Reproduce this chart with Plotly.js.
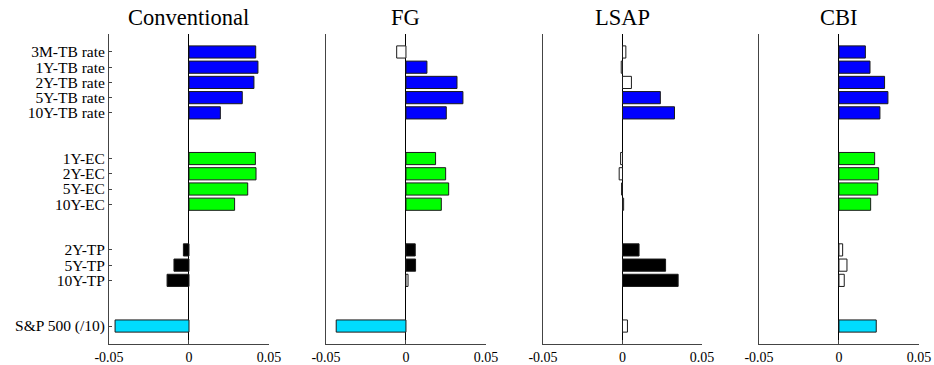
<!DOCTYPE html>
<html>
<head>
<meta charset="utf-8">
<script src="https://cdn.plot.ly/plotly-3.0.1.min.js"></script>
<style>html,body{margin:0;padding:0;background:#fff;}#chart{width:934px;height:365px;}</style>
</head>
<body>
<div id="chart"></div>
<script>
// ---- data ----
var panelTitles = ['Conventional', 'FG', 'LSAP', 'CBI'];
var groupRates = ['3M-TB rate', '1Y-TB rate', '2Y-TB rate', '5Y-TB rate', '10Y-TB rate'];
var groupEC = ['1Y-EC', '2Y-EC', '5Y-EC', '10Y-EC'];
var groupTP = ['2Y-TP', '5Y-TP', '10Y-TP'];
var groupSP = ['S&P 500 (/10)'];
var groupKinds = ['rates', 'ec', 'tp', 'sp'];

var conventional = [0.0417, 0.0431, 0.0406, 0.0333, 0.0196, 0.0415, 0.0419, 0.0367, 0.0285, -0.0035, -0.0094, -0.0137, -0.0462];
var fg           = [-0.0058, 0.0131, 0.0319, 0.0356, 0.0252, 0.0185, 0.0248, 0.0267, 0.0221, 0.0058, 0.0060, 0.0013, -0.0436];
var lsap         = [0.0021, -0.0008, 0.0056, 0.0238, 0.0327, -0.0012, -0.0021, -0.0006, 0.0007, 0.0104, 0.0271, 0.0350, 0.0031];
var cbi          = [0.0165, 0.0194, 0.0285, 0.0306, 0.0256, 0.0223, 0.0248, 0.0242, 0.0198, 0.0023, 0.0050, 0.0033, 0.0233];

var sigConventional = [1,1,1,1,1, 1,1,1,1, 1,1,1, 1];
var sigFG           = [0,1,1,1,1, 1,1,1,1, 1,1,0, 1];
var sigLSAP         = [0,0,0,1,1, 0,0,0,0, 1,1,1, 0];
var sigCBI          = [1,1,1,1,1, 1,1,1,1, 0,0,0, 1];

var xTickVals = [-0.05, 0, 0.05];
var xTickText = ['-0.05', '0', '0.05'];

// ---- styling ----
var kindColor = {rates: '#0000ff', ec: '#00ff00', tp: '#000000', sp: '#00dcff'};
var groups = [groupRates, groupEC, groupTP, groupSP];
var labels = [], pos = [], kinds = [];
var p = 0;
groups.forEach(function (g, gi) {
  g.forEach(function (lab) { labels.push(lab); pos.push(p); kinds.push(groupKinds[gi]); p++; });
  p += 2;
});

var series = [conventional, fg, lsap, cbi];
var sigs = [sigConventional, sigFG, sigLSAP, sigCBI];
var domains = [[0.1167, 0.2880], [0.3490, 0.5203], [0.5814, 0.7516], [0.8126, 0.9839]];
var serif = 'Liberation Serif, Times New Roman, serif';

var traces = [], layout = {
  width: 934, height: 365,
  margin: {l: 0, r: 0, t: 34, b: 21},
  paper_bgcolor: '#fff', plot_bgcolor: '#fff',
  showlegend: false, bargap: 0.2,
  font: {family: serif, size: 13, color: '#000'},
  annotations: []
};

series.forEach(function (vals, i) {
  var sfx = i === 0 ? '' : String(i + 1);
  var colors = vals.map(function (v, k) { return sigs[i][k] ? kindColor[kinds[k]] : '#ffffff'; });
  traces.push({
    type: 'bar', orientation: 'h', x: vals, y: pos, width: 0.8,
    xaxis: 'x' + sfx, yaxis: 'y' + sfx,
    marker: {color: colors, line: {color: '#1a1a1a', width: 1}},
    hoverinfo: 'x+y'
  });
  layout['xaxis' + sfx] = {
    domain: domains[i], anchor: 'y' + sfx, range: [-0.05, 0.05],
    tickmode: 'array', tickvals: xTickVals, ticktext: xTickText,
    ticks: 'inside', ticklen: 4, tickcolor: '#444', tickwidth: 1,
    showline: true, linecolor: '#444', linewidth: 1, mirror: false,
    showgrid: false, zeroline: true, zerolinecolor: '#000', zerolinewidth: 1,
    tickfont: {family: serif, size: 14, color: '#000'}, fixedrange: true
  };
  layout['yaxis' + sfx] = {
    anchor: 'x' + sfx, range: [19.18, -1.18],
    tickmode: 'array', tickvals: pos, ticktext: labels,
    showticklabels: i === 0, ticks: i === 0 ? 'inside' : '', ticklen: 3, tickcolor: '#444',
    showline: true, linecolor: '#444', linewidth: 1,
    showgrid: false, zeroline: false,
    tickfont: {family: serif, size: 15.5, color: '#000'}, fixedrange: true
  };
  layout.annotations.push({
    text: panelTitles[i], xref: 'paper', yref: 'paper',
    x: (domains[i][0] + domains[i][1]) / 2, y: 1, yshift: 2,
    xanchor: 'center', yanchor: 'bottom', showarrow: false,
    font: {family: serif, size: 22.5, color: '#000'}
  });
});

Plotly.newPlot('chart', traces, layout, {displayModeBar: false, staticPlot: true});
</script>
</body>
</html>
